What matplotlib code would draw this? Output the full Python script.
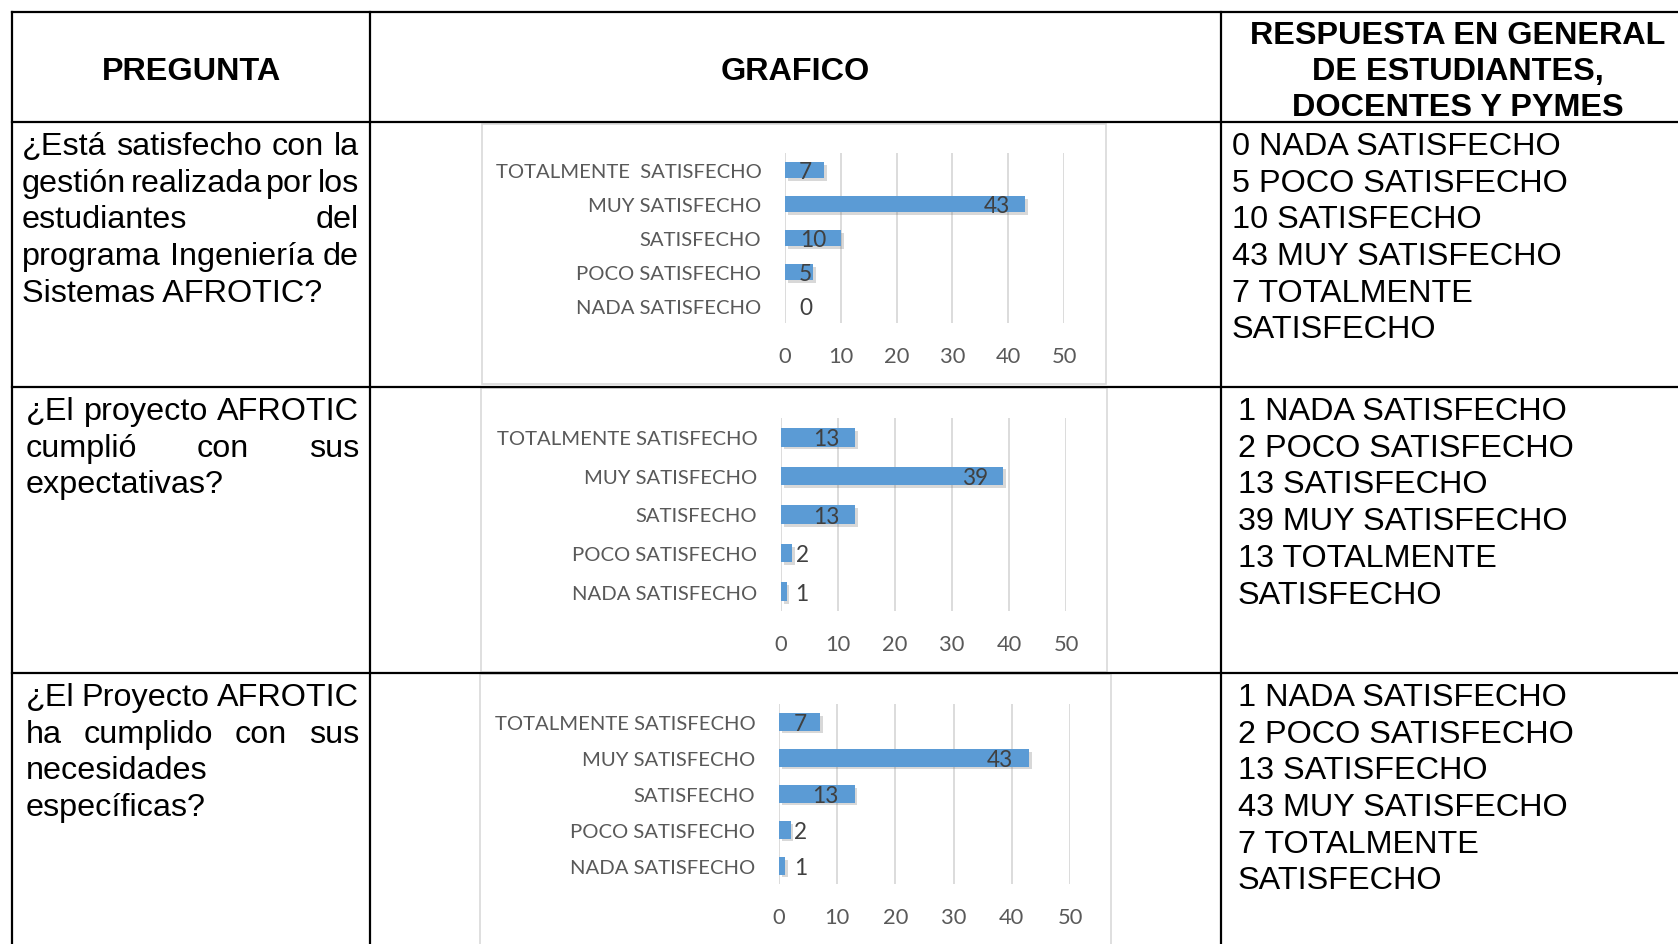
import matplotlib
matplotlib.use("Agg")
import matplotlib.pyplot as plt
from matplotlib.lines import Line2D
from matplotlib.patches import Rectangle
from matplotlib import patheffects as pe
from matplotlib import font_manager

categories = ["NADA SATISFECHO", "POCO SATISFECHO", "SATISFECHO",
              "MUY SATISFECHO", "TOTALMENTE SATISFECHO"]
chart1_labels = ["NADA SATISFECHO", "POCO SATISFECHO", "SATISFECHO",
                 "MUY SATISFECHO", "TOTALMENTE  SATISFECHO"]
q1_values = [0, 5, 10, 43, 7]
q2_values = [1, 2, 13, 39, 13]
q3_values = [1, 2, 13, 43, 7]
ticks = [0, 10, 20, 30, 40, 50]

questions = [
    ["¿Está satisfecho con la", "gestión realizada por los", "estudiantes del",
     "programa Ingeniería de", "Sistemas AFROTIC?"],
    ["¿El proyecto AFROTIC", "cumplió con sus", "expectativas?"],
    ["¿El Proyecto AFROTIC", "ha cumplido con sus", "necesidades", "específicas?"],
]
headers = ["PREGUNTA", "GRAFICO"]
header3 = ["RESPUESTA EN GENERAL", "DE ESTUDIANTES,", "DOCENTES Y PYMES"]

W, H = 1678, 945
fig = plt.figure(figsize=(W / 100, H / 100), dpi=100)
renderer = fig.canvas.get_renderer()

names = {f.name for f in font_manager.fontManager.ttflist}
chart_font = next((n for n in ["Liberation Sans Narrow", "Lato", "Open Sans", "DejaVu Sans"]
                   if n in names), "DejaVu Sans")
table_font = "Liberation Sans"
TS = 23.3

# size the chart font so a category label is as wide as in the picture (~259 px)
probe = fig.text(0, 0, "TOTALMENTE SATISFECHO", fontsize=10, family=chart_font)
CS = 10 * 259 / probe.get_window_extent(renderer).width
probe.remove()


def fx(x):
    return x / W


def fy(y):
    return 1 - y / H


def put_line(line, left, right, base, justify):
    words = line.split()
    kw = dict(ha="left", va="baseline", fontsize=TS, family=table_font, color="black")
    if not justify or len(words) == 1:
        fig.text(fx(left), fy(base), line, **kw)
        return
    texts = [fig.text(0, fy(base), w, **kw) for w in words]
    widths = [t.get_window_extent(renderer).width for t in texts]
    gap = (right - left - sum(widths)) / (len(words) - 1)
    x = left
    for t, w in zip(texts, widths):
        t.set_x(fx(x))
        x += w + gap


# table grid
for x in [12, 370, 1221]:
    fig.add_artist(Line2D([fx(x), fx(x)], [fy(13), fy(950)], color="black", lw=1.6,
                          transform=fig.transFigure))
for y in [13, 123, 388, 674]:
    fig.add_artist(Line2D([fx(12), fx(1690)], [fy(y), fy(y)], color="black", lw=1.6,
                          transform=fig.transFigure))

# headers
fig.text(fx(191), fy(80), headers[0], ha="center", va="baseline", fontsize=TS,
         weight="bold", family=table_font)
fig.text(fx(795), fy(80), headers[1], ha="center", va="baseline", fontsize=TS,
         weight="bold", family=table_font)
for i, line in enumerate(header3):
    fig.text(fx(1458), fy(43.5 + 36.5 * i), line, ha="center", va="baseline",
             fontsize=TS, weight="bold", family=table_font)

row_base = [155, 420, 706]
step = 36.7
q_left = [22, 26, 26]
r_left = [1232, 1238, 1238]
all_values = [q1_values, q2_values, q3_values]

for r in range(3):
    lines = questions[r]
    for i, line in enumerate(lines):
        put_line(line, q_left[r], 359, row_base[r] + step * i, i < len(lines) - 1)
    resp = [f"{v} {c}" for v, c in zip(all_values[r], categories)]
    # the last answer wraps onto two lines in the cell
    resp = resp[:-1] + resp[-1].rsplit(" ", 1)
    for i, line in enumerate(resp):
        fig.text(fx(r_left[r]), fy(row_base[r] + step * i), line, ha="left",
                 va="baseline", fontsize=TS, family=table_font)

# chart frames and bar charts
frames = [(482, 125, 1106, 385), (481, 389, 1107, 673), (480, 675, 1111, 950)]
plot_areas = [(785, 154, 1064, 324), (781, 419, 1066, 612), (779, 705, 1070, 885)]
label_sets = [chart1_labels, categories, categories]

for (fl, ft, fr, fb), (x0, top, x1, bot), vals, labs in zip(frames, plot_areas, all_values, label_sets):
    fig.add_artist(Rectangle((fx(fl), fy(fb)), (fr - fl) / W, (fb - ft) / H,
                             transform=fig.transFigure, facecolor="none",
                             edgecolor="#D9D9D9", lw=1.2, zorder=-1))
    ax = fig.add_axes([fx(x0), fy(bot), (x1 - x0) / W, (bot - top) / H])
    ax.set_facecolor("none")
    pos = list(range(len(vals)))
    bars = ax.barh(pos, vals, height=0.48, color="#5B9BD5", lw=0, zorder=3)
    for b, v in zip(bars, vals):
        if v > 0:
            b.set_path_effects([pe.SimplePatchShadow(offset=(2, -2), shadow_rgbFace="#7f7f7f",
                                                     alpha=0.3), pe.Normal()])
    for p, v in zip(pos, vals):
        ax.text(max(v - 5, 3.7), p - 0.04, str(v), ha="center", va="center",
                fontsize=CS * 1.12, color="#404040", family=chart_font, zorder=4)
    ax.set_xlim(0, 50)
    ax.set_ylim(-0.5, len(vals) - 0.5)
    ax.set_xticks(ticks)
    ax.set_yticks(pos)
    ax.set_yticklabels(labs)
    ax.grid(axis="x", color="#D9D9D9", lw=1.3, zorder=0)
    ax.set_axisbelow(True)
    for s in ax.spines.values():
        s.set_visible(False)
    ax.tick_params(axis="x", length=0, pad=16.5, labelsize=CS * 1.08, labelcolor="#595959")
    ax.tick_params(axis="y", length=0, pad=17, labelsize=CS, labelcolor="#595959")
    for t in ax.get_xticklabels() + ax.get_yticklabels():
        t.set_family(chart_font)

fig.savefig("out.png", dpi=100)
